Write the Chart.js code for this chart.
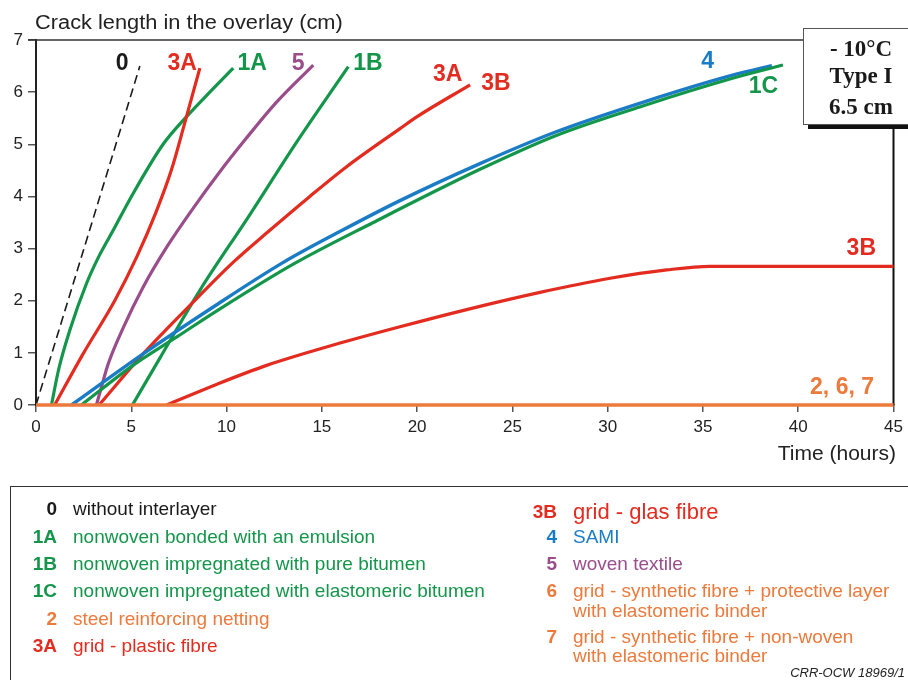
<!DOCTYPE html>
<html>
<head>
<meta charset="utf-8">
<script src="https://cdn.jsdelivr.net/npm/chart.js@4/dist/chart.umd.min.js"></script>
<style>
  html,body{margin:0;padding:0;background:#fff;}
  #wrap{position:relative;width:908px;height:680px;overflow:hidden;background:#fff;font-family:"Liberation Sans",Arial,sans-serif;}
  #c{position:absolute;left:0;top:0;}
  .t{position:absolute;white-space:nowrap;}
  .lab{position:absolute;white-space:nowrap;font-weight:bold;text-align:right;font-size:19px;line-height:19px;}
  .txt{position:absolute;white-space:nowrap;font-size:19px;line-height:19px;transform-origin:left center;}
  #box{position:absolute;left:803px;top:28px;width:114px;height:95px;border:1.5px solid #555;background:#fff;box-shadow:5px 4px 0 #111;}
  .bx{position:absolute;left:0;width:114px;text-align:center;font-family:"Liberation Serif","Times New Roman",serif;font-weight:bold;font-size:23px;line-height:23px;color:#1a1a1a;}
</style>
</head>
<body>
<div id="wrap">
  <canvas id="c" width="908" height="680"></canvas>
  <div class="t" style="left:35px;top:12px;font-size:20px;line-height:20px;color:#222;transform:scaleX(1.09);transform-origin:left center;">Crack length in the overlay (cm)</div>
  <div class="t" style="right:12px;top:442px;font-size:21px;line-height:21px;color:#222;">Time (hours)</div>
  <div id="box">
    <div class="bx" style="top:8px;">- 10°C</div>
    <div class="bx" style="top:35px;">Type I</div>
    <div class="bx" style="top:66px;">6.5 cm</div>
  </div>
  <div style="position:absolute;left:10px;top:486px;width:900px;height:200px;border-top:1.3px solid #333;border-left:1.3px solid #333;"></div>
  <div id="legend"></div>
  <div class="t" style="right:3px;top:666px;font-size:13px;line-height:13px;font-style:italic;color:#222;">CRR-OCW 18969/1</div>
</div>
<script>
// ---- data (time in hours, crack length in cm) ----
const xTicks = [0,5,10,15,20,25,30,35,40,45];
const yTicks = [0,1,2,3,4,5,6,7];

const t0  = [0, 2.97, 5.45];
const v0  = [0, 3.54, 6.5];

const t1A = [0.81, 1.2, 1.77, 2.65, 3.3, 4.05, 5.01, 6.67, 7.9, 9.12, 10.35];
const v1A = [0, 0.7, 1.43, 2.33, 2.85, 3.35, 4.0, 5.0, 5.53, 6.0, 6.46];

const t3A = [0.98, 2.47, 4.13, 5.3, 6.3, 7.1, 7.8, 8.25, 8.6];
const v3A = [0, 0.98, 2.0, 2.85, 3.7, 4.5, 5.4, 6.0, 6.46];

const t5  = [3.17, 3.4, 3.8, 4.6, 5.62, 6.9, 8.3, 9.6, 11.0, 12.6, 14.55];
const v5  = [0, 0.3, 0.8, 1.5, 2.26, 3.05, 3.8, 4.45, 5.1, 5.8, 6.52];

const t1B = [5.06, 6.5, 8.6, 11.13, 13.6, 16.39];
const v1B = [0, 0.9, 2.2, 3.6, 5.0, 6.49];

const t3Bu = [3.31, 5.62, 8.43, 10.3, 12.27, 14.37, 16.3, 19.1, 20.0, 22.78];
const v3Bu = [0, 0.98, 2.04, 2.72, 3.35, 4.0, 4.57, 5.3, 5.53, 6.14];

const t4  = [1.86, 5.62, 9.3, 13.0, 16.12, 19.1, 23.3, 27.3, 31.88, 36.6, 38.62];
const v4  = [0, 0.98, 1.88, 2.74, 3.36, 3.92, 4.63, 5.24, 5.81, 6.33, 6.51];

const t1C = [2.38, 5.09, 7.37, 9.47, 13.5, 17.7, 23.3, 27.3, 31.88, 36.6, 39.2];
const v1C = [0, 0.76, 1.3, 1.8, 2.7, 3.5, 4.52, 5.17, 5.74, 6.27, 6.52];

const t3B = [6.85, 9.5, 12.1, 15.6, 19.1, 22.6, 26.45, 30.13, 33.1, 35.38, 45];
const v3B = [0, 0.4, 0.76, 1.15, 1.5, 1.83, 2.16, 2.43, 2.59, 2.66, 2.66];

const t267 = [0, 45];
const v267 = [0, 0];

// in-plot labels: text, time, length
const labelText = ["0", "3A", "1A", "5", "1B", "3A", "3B", "4", "1C", "3B", "2, 6, 7"];
const labelT    = [4.52, 7.67, 11.35, 13.76, 17.42, 21.6, 24.14, 35.25, 38.17, 43.31, 42.3];
const labelV    = [6.55, 6.55, 6.55, 6.55, 6.55, 6.33, 6.17, 6.58, 6.1, 3.0, 0.34];
const labelKey  = ["black","red","green","purple","green","red","red","blue","green","red","orange"];

// legend
const legLeftCodes = ["0","1A","1B","1C","2","3A"];
const legLeftTexts = ["without interlayer","nonwoven bonded with an emulsion","nonwoven impregnated with pure bitumen","nonwoven impregnated with elastomeric bitumen","steel reinforcing netting","grid - plastic fibre"];
const legLeftKeys  = ["black","green","green","green","orange","red"];
const legRightCodes = ["3B","4","5","6","7"];
const legRightTexts = [["grid - glas fibre"],["SAMI"],["woven textile"],["grid - synthetic fibre + protective layer","with elastomeric binder"],["grid - synthetic fibre + non-woven","with elastomeric binder"]];
const legRightKeys  = ["red","blue","purple","orange","orange"];

const COL = {black:"#1a1a1a", green:"#14964a", red:"#e32b1f", blue:"#1b7cc6", purple:"#9a4d8b", orange:"#ec7a3c"};

function pts(t, v){ return t.map((x,i)=>({x:x, y:v[i]})); }

// ---- legend DOM ----
(function(){
  const L = document.getElementById('legend');
  const leftY = [508.8, 536.3, 563.5, 590.5, 618, 645];
  legLeftCodes.forEach((c,i)=>{
    const a = document.createElement('div'); a.className='lab';
    a.style.left='17px'; a.style.width='40px'; a.style.top=(leftY[i]-9.5)+'px';
    a.style.color=COL[legLeftKeys[i]]; a.textContent=c; L.appendChild(a);
    const b = document.createElement('div'); b.className='txt';
    b.style.left='73px'; b.style.top=(leftY[i]-9.5)+'px';
    b.style.color=COL[legLeftKeys[i]]; b.textContent=legLeftTexts[i]; L.appendChild(b);
  });
  const rightY = [[511.7],[536.7],[563.3],[590,610.7],[636.7,655.7]];
  legRightCodes.forEach((c,i)=>{
    const a = document.createElement('div'); a.className='lab';
    a.style.left='512px'; a.style.width='45px'; a.style.top=(rightY[i][0]-9.5)+'px';
    a.style.color=COL[legRightKeys[i]]; a.textContent=c; L.appendChild(a);
    legRightTexts[i].forEach((s,j)=>{
      const b = document.createElement('div'); b.className='txt';
      const fs = (i===0)?22:19;
      b.style.fontSize=fs+'px'; b.style.lineHeight=fs+'px';
      b.style.left='573px'; b.style.top=(rightY[i][j]-fs/2)+'px';
      b.style.color=COL[legRightKeys[i]]; b.textContent=s; L.appendChild(b);
    });
  });
})();

// ---- chart ----
const frameAndLabels = {
  id:'frameAndLabels',
  beforeDatasetsDraw(chart){
    const {ctx, chartArea:a} = chart;
    ctx.save();
    ctx.strokeStyle='#333'; ctx.lineWidth=1.5;
    ctx.beginPath(); ctx.moveTo(a.left-8, a.top); ctx.lineTo(a.right, a.top); ctx.stroke();
    ctx.strokeStyle='#111'; ctx.lineWidth=2;
    ctx.beginPath(); ctx.moveTo(a.right, a.top); ctx.lineTo(a.right, a.bottom); ctx.stroke();
    ctx.restore();
  },
  afterDatasetsDraw(chart){
    const {ctx, scales:{x, y}} = chart;
    ctx.save();
    ctx.font = 'bold 23px "Liberation Sans", Arial, sans-serif';
    ctx.textAlign='center'; ctx.textBaseline='middle';
    labelText.forEach((s,i)=>{
      ctx.fillStyle = COL[labelKey[i]];
      ctx.fillText(s, x.getPixelForValue(labelT[i]), y.getPixelForValue(labelV[i]));
    });
    ctx.restore();
  }
};

const ds = (label, t, v, key, extra) => Object.assign({
  label, data: pts(t, v), borderColor: COL[key], backgroundColor: COL[key],
  borderWidth: 3.2, pointRadius: 0, fill:false, cubicInterpolationMode:'monotone', clip:false
}, extra||{});

new Chart(document.getElementById('c'), {
  type:'line',
  data:{ datasets:[
    ds('2, 6, 7', t267, v267, 'orange', {borderWidth:3.6}),
    ds('3B', t3B, v3B, 'red'),
    ds('1C', t1C, v1C, 'green'),
    ds('4', t4, v4, 'blue', {borderWidth:3.4}),
    ds('3A/3B', t3Bu, v3Bu, 'red'),
    ds('1B', t1B, v1B, 'green'),
    ds('5', t5, v5, 'purple'),
    ds('3A', t3A, v3A, 'red'),
    ds('1A', t1A, v1A, 'green'),
    ds('0', t0, v0, 'black', {borderWidth:1.6, borderDash:[9,5]}),
  ]},
  plugins:[frameAndLabels],
  options:{
    responsive:false, animation:false, devicePixelRatio:1,
    layout:{padding:{top:40, right:14.5, bottom:235, left:0}},
    plugins:{legend:{display:false}, tooltip:{enabled:false}},
    scales:{
      x:{ type:'linear', min:0, max:45,
        afterBuildTicks:s=>{ s.ticks = xTicks.map(v=>({value:v})); },
        afterFit:s=>{ s.height = 40; },
        border:{display:true, color:'#222', width:2},
        grid:{drawOnChartArea:false, drawTicks:true, tickLength:7, color:'#555', lineWidth:1.5},
        ticks:{padding:5, color:'#222', font:{family:'"Liberation Sans", Arial, sans-serif', size:17}, maxRotation:0}
      },
      y:{ type:'linear', min:0, max:7,
        afterBuildTicks:s=>{ s.ticks = yTicks.map(v=>({value:v})); },
        afterFit:s=>{ s.width = 36; },
        border:{display:true, color:'#222', width:2},
        grid:{drawOnChartArea:false, drawTicks:true, tickLength:8, color:'#555', lineWidth:1.5},
        ticks:{padding:5, color:'#222', font:{family:'"Liberation Sans", Arial, sans-serif', size:17}}
      }
    }
  }
});
</script>
</body>
</html>
